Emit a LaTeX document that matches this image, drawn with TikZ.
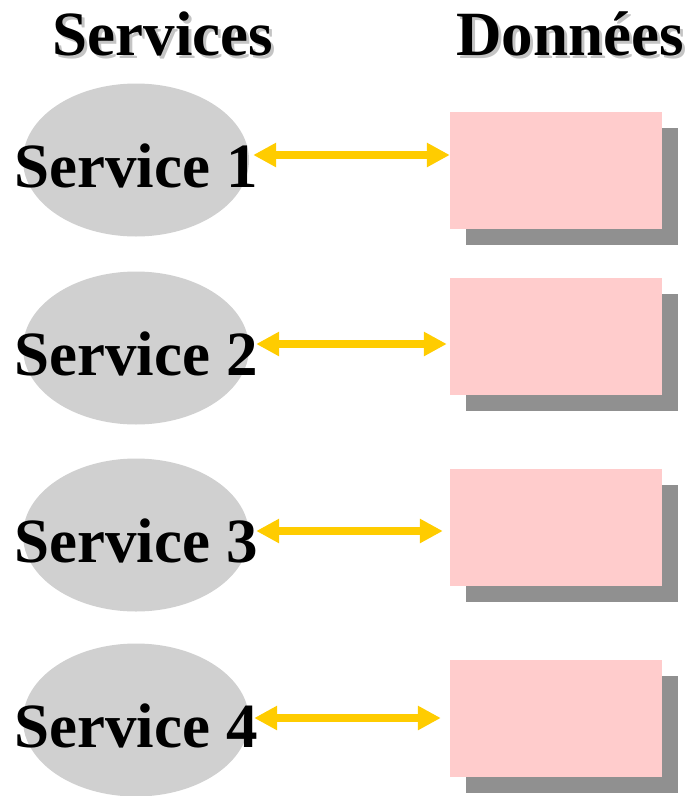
\documentclass[tikz,border=0pt]{standalone}
\usepackage{fontspec}
\setmainfont{Liberation Serif}
\usetikzlibrary{arrows.meta,shadows,shapes.geometric}
\definecolor{srvGray}{HTML}{D0D0D0}
\definecolor{datPink}{HTML}{FFCCCC}
\definecolor{datShade}{HTML}{909090}
\definecolor{linkGold}{HTML}{FFCC00}
\definecolor{headShade}{HTML}{C4C4C4}
% title text with a light offset shade behind it
\newcommand{\shadedtitle}[1]{%
  \makebox[0pt][l]{\hspace*{3pt}\raisebox{-3pt}{\textcolor{headShade}{#1}}}#1}
\tikzset{
  big text/.style={font=\bfseries\fontsize{63}{70}\selectfont, inner sep=0pt},
  srv/.style={ellipse, fill=srvGray, minimum width=226pt, minimum height=153pt, inner sep=0pt},
  srv label/.style={big text, anchor=base},
  dat/.style={rectangle, fill=datPink, minimum width=212pt, minimum height=117pt, inner sep=0pt,
    drop shadow={shadow xshift=16pt, shadow yshift=-16pt, fill=datShade, opacity=1}},
}

\begin{document}
\begin{tikzpicture}[x=1pt, y=-1pt,
  head/.style={big text, anchor=base},
  link/.style={draw=linkGold, line width=8pt,
    {Triangle[length=23pt, width=23pt]}-{Triangle[length=23pt, width=23pt]}}
]
  \useasboundingbox (0,0) rectangle (689,796);

  % column titles
  \node[head] (hsrv) at (163,55) {\shadedtitle{Services}};
  \node[head] (hdat) at (570,55) {\shadedtitle{Données}};

  % services
  \node[srv] (s1) at (136,160) {};
  \node[srv] (s2) at (136,348) {};
  \node[srv] (s3) at (136,535) {};
  \node[srv] (s4) at (136,720) {};
  \node[srv label] (l1) at ([yshift=-27pt]s1.center) {Service 1};
  \node[srv label] (l2) at ([yshift=-27pt]s2.center) {Service 2};
  \node[srv label] (l3) at ([yshift=-27pt]s3.center) {Service 3};
  \node[srv label] (l4) at ([yshift=-27pt]s4.center) {Service 4};

  % data stores
  \node[dat] (d1) at (556,170) {};
  \node[dat] (d2) at (556,336) {};
  \node[dat] (d3) at (556,527) {};
  \node[dat] (d4) at (556,718) {};

  % links
  \draw[link] ([xshift=4pt,yshift=5pt]s1.east) coordinate (a1) -- (a1 -| d1.west);
  \draw[link] ([xshift=7pt,yshift=4pt]s2.east) coordinate (a2) -- ([xshift=-3pt]a2 -| d2.west);
  \draw[link] ([xshift=7pt,yshift=4pt]s3.east) coordinate (a3) -- ([xshift=-7pt]a3 -| d3.west);
  \draw[link] ([xshift=5pt,yshift=2pt]s4.east) coordinate (a4) -- ([xshift=-9pt]a4 -| d4.west);
\end{tikzpicture}
\end{document}
